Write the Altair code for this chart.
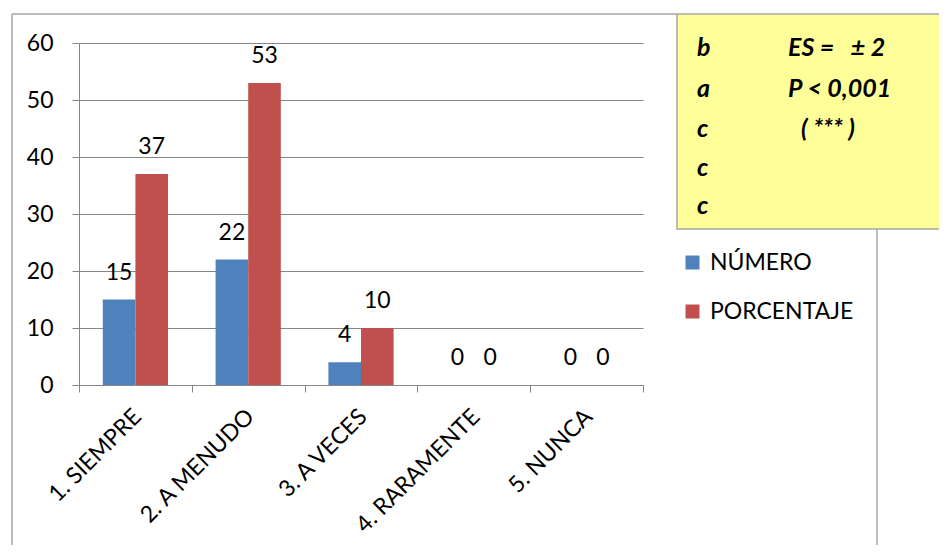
import altair as alt
import pandas as pd

categorias = ["1. SIEMPRE", "2. A MENUDO", "3. A VECES", "4. RARAMENTE", "5. NUNCA"]
numero = [15, 22, 4, 0, 0]
porcentaje = [37, 53, 10, 0, 0]
series = ["NÚMERO", "PORCENTAJE"]
colores = ["#4F81BD", "#C0504D"]

nota_izq = ["b", "a", "c", "c", "c"]
nota_der = ["ES =\u00a0\u00a0\u00a0± 2", "P < 0,001", "(\u00a0***\u00a0)", "", ""]

rows = []
for c, n, p in zip(categorias, numero, porcentaje):
    rows.append({"cat": c, "serie": series[0], "valor": n})
    rows.append({"cat": c, "serie": series[1], "valor": p})
df = pd.DataFrame(rows)

FONT = "Lato"
FS = 23
W, H = 564, 342

xenc = alt.X("cat:N", sort=categorias, title=None,
             scale=alt.Scale(paddingInner=0, paddingOuter=0),
             axis=alt.Axis(labelAngle=-45, tickBand="extent", labelFontSize=FS,
                           labelFont=FONT, labelColor="#000000", domainColor="#868686",
                           tickColor="#868686", tickSize=7, labelPadding=13, labelOffset=-6,
                           grid=False))
xoff = alt.XOffset("serie:N", sort=series, scale=alt.Scale(paddingInner=0, paddingOuter=0.73))
yenc = alt.Y("valor:Q", title=None,
             scale=alt.Scale(domain=[0, 60], nice=False),
             axis=alt.Axis(values=[0, 10, 20, 30, 40, 50, 60], labelFontSize=FS, labelFont=FONT,
                           labelColor="#000000", domainColor="#868686", tickColor="#868686",
                           tickSize=7, gridColor="#868686", gridWidth=1, labelPadding=19))

base = alt.Chart(df)
bars = base.mark_bar().encode(
    x=xenc, xOffset=xoff, y=yenc,
    color=alt.Color("serie:N", sort=series, scale=alt.Scale(domain=series, range=colores),
                    legend=alt.Legend(title=None, orient="none", legendX=602, legendY=208,
                                      symbolType="square", symbolSize=196, symbolStrokeWidth=0,
                                      labelFontSize=FS, labelFont=FONT, labelColor="#000000",
                                      rowPadding=25, labelOffset=6, padding=0)),
)
labels = base.mark_text(fontSize=FS, font=FONT, color="#000000", dy=-27).encode(
    x=xenc, xOffset=xoff, y=yenc, text="valor:Q")

# frame and annotation box (decoration)
frame_left = alt.Chart().mark_rule(color="#A6A6A6", strokeWidth=1.5).encode(
    x=alt.value(-67), y=alt.value(-29), y2=alt.value(520))
frame_top = alt.Chart().mark_rule(color="#A6A6A6", strokeWidth=1.5).encode(
    x=alt.value(-67), x2=alt.value(598), y=alt.value(-29))
frame_right = alt.Chart().mark_rule(color="#A6A6A6", strokeWidth=1.5).encode(
    x=alt.value(798), y=alt.value(186), y2=alt.value(520))
box = alt.Chart().mark_rect(fill="#FFFF99", stroke="#A6A6A6", strokeWidth=1.5).encode(
    x=alt.value(598), x2=alt.value(880), y=alt.value(-29), y2=alt.value(186))

ys = [4.5, 45.5, 85.5, 124.5, 162.5]
xs_der = [709, 709, 722, 709, 709]
notes = []
for i, (a, b) in enumerate(zip(nota_izq, nota_der)):
    notes.append(alt.Chart().mark_text(text=a, align="left", baseline="middle", fontSize=25,
                                       font=FONT, fontWeight="bold", fontStyle="italic",
                                       color="#000000").encode(x=alt.value(618), y=alt.value(ys[i])))
    if b:
        notes.append(alt.Chart().mark_text(text=b, align="left", baseline="middle", fontSize=25,
                                           font=FONT, fontWeight="bold", fontStyle="italic",
                                           color="#000000").encode(x=alt.value(xs_der[i]), y=alt.value(ys[i])))

chart = alt.layer(frame_left, frame_top, frame_right, box, *notes, bars, labels).properties(
    width=W, height=H,
    autosize=alt.AutoSizeParams(type="none"),
    padding={"left": 71, "top": 35, "right": 931 - 71 - W, "bottom": 537 - 35 - H},
    background="#FFFFFF",
).configure_view(stroke=None)

chart.save("out.html", embed_options={"renderer": "svg", "actions": False})
